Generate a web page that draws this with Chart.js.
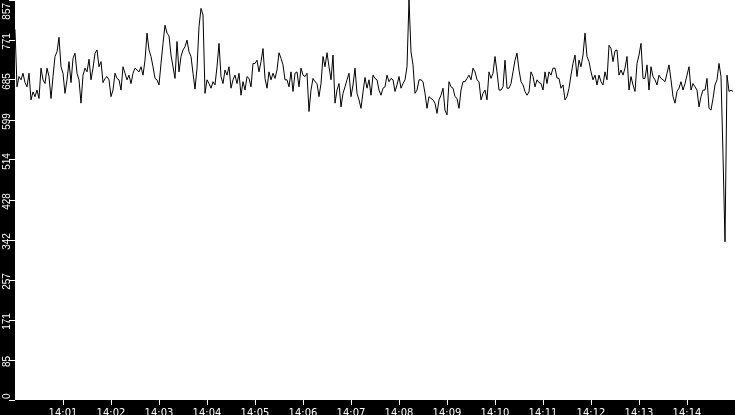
<!DOCTYPE html>
<html>
<head>
<meta charset="utf-8">
<script src="https://cdn.jsdelivr.net/npm/chart.js@4"></script>
<style>
  html, body { margin: 0; padding: 0; background: #000; }
  canvas { display: block; }
</style>
</head>
<body>
<canvas id="chart" width="735" height="415"></canvas>
<script>
// samples every 2.5 s starting at 14:00:00
const stepSeconds = 2.5;
const values1400 = [
  794,671,693,686,700,680,671,700,643,660,
  650,664,646,711,686,678,711,693,646,693,
  736,746,777,714,700,657,686,725,680,732,
  743,700,686,636,696,711,703,730,686,711,
  743,750,714,725,680,689,693,686,650,664,
  700,689,686,664,714,700,686,696,678,700
];
const values1402 = [
  711,707,703,714,696,728,786,750,736,714,
  689,686,675,721,764,803,786,780,739,714,
  689,768,703,736,750,757,771,746,736,700,
  666,711,800,839,825,657,686,678,668,682,
  675,714,764,693,678,707,696,714,668,686,
  696,678,700,653,682,664,693,689,671,721
];
const values1405 = [
  721,728,703,725,753,689,668,703,686,700,
  689,707,744,732,718,686,686,671,703,661,
  700,703,671,711,696,693,700,618,664,689,
  682,678,650,678,736,714,744,714,686,739,
  636,664,678,628,657,671,686,700,650,675,
  711,657,643,625,660,691,668,686,653,696
];
const values1407 = [
  689,686,664,653,668,671,696,682,689,686,
  661,675,693,668,678,686,714,857,746,718,
  657,664,686,686,682,657,625,650,646,643,
  636,614,643,653,668,621,611,682,671,668,
  650,646,625,664,682,682,689,696,686,711,
  703,686,682,643,657,664,643,703,689,700
];
const values1410 = [
  736,703,664,664,671,728,668,668,678,703,
  728,743,707,682,675,661,653,660,703,693,
  671,686,680,678,664,703,678,703,696,711,
  711,690,689,668,675,643,650,668,696,721,
  739,693,728,714,739,786,736,725,703,686,
  696,675,696,682,675,703,686,760,753,725
];
const values1412 = [
  748,750,696,707,696,711,736,664,693,675,
  661,721,739,764,689,689,718,664,714,693,
  686,675,696,689,686,682,700,718,686,650,
  636,661,668,682,664,678,696,714,664,678,
  671,664,628,650,664,664,689,625,621,646,
  675,686,721,693,525,339,696,661,664,661
];

const yMax = 857;
const yTickLabels = ['0','85','171','257','342','428','514','599','685','771','857'];
const xTickLabels = ['14:01','14:02','14:03','14:04','14:05','14:06','14:07',
                     '14:08','14:09','14:10','14:11','14:12','14:13','14:14'];

const allValues = [].concat(values1400, values1402, values1405, values1407, values1410, values1412);
const points = allValues.map((v, i) => ({ x: i * stepSeconds, y: v }));

// black page, white plot area
const backdrop = {
  id: 'backdrop',
  beforeDraw(chart) {
    const { ctx, chartArea: a } = chart;
    ctx.save();
    ctx.fillStyle = '#000';
    ctx.fillRect(0, 0, chart.width, chart.height);
    ctx.fillStyle = '#fff';
    ctx.fillRect(a.left, a.top, a.right - a.left, a.bottom - a.top);
    ctx.restore();
  }
};

// y labels are drawn turned on their side
const sideLabels = {
  id: 'sideLabels',
  afterDraw(chart) {
    const { ctx, chartArea: a } = chart;
    const scale = chart.scales.y;
    ctx.save();
    ctx.fillStyle = '#fff';
    ctx.font = '10px "Liberation Sans"';
    ctx.textAlign = 'center';
    ctx.textBaseline = 'alphabetic';
    scale.ticks.forEach((t, i) => {
      const txt = yTickLabels[i];
      const half = ctx.measureText(txt).width / 2;
      let y = scale.getPixelForValue(t.value) + 1.5;
      y = Math.max(a.top + half + 3, Math.min(a.bottom - half - 1, y));
      ctx.save();
      ctx.translate(9.5, y);
      ctx.rotate(-Math.PI / 2);
      ctx.fillText(txt, 0, 0);
      ctx.restore();
    });
    ctx.restore();
  }
};

new Chart(document.getElementById('chart'), {
  type: 'line',
  data: {
    datasets: [{
      data: points,
      borderColor: '#000',
      borderWidth: 1,
      pointRadius: 0,
      tension: 0,
      fill: false
    }]
  },
  options: {
    responsive: false,
    animation: false,
    devicePixelRatio: 1,
    layout: { padding: 0 },
    plugins: { legend: { display: false }, tooltip: { enabled: false } },
    scales: {
      x: {
        type: 'linear',
        min: 0,
        max: 900,
        afterBuildTicks: (s) => { s.ticks = xTickLabels.map((_, i) => ({ value: (i + 1) * 60 })); },
        afterFit: (s) => { s.height = 15; },
        border: { display: false },
        grid: { drawOnChartArea: false, color: '#fff', tickLength: 5 },
        ticks: {
          color: '#fff',
          font: { family: 'DejaVu Sans', size: 10 },
          padding: 2,
          autoSkip: false,
          maxRotation: 0,
          callback: (v) => xTickLabels[Math.round(v / 60) - 1]
        }
      },
      y: {
        min: 0,
        max: yMax,
        afterBuildTicks: (s) => { s.ticks = yTickLabels.map((_, i) => ({ value: i * yMax / 10 })); },
        afterFit: (s) => { s.width = 15; },
        border: { display: false },
        grid: { drawOnChartArea: false, color: '#fff', tickLength: 6 },
        ticks: { display: false }
      }
    }
  },
  plugins: [backdrop, sideLabels]
});
</script>
</body>
</html>
